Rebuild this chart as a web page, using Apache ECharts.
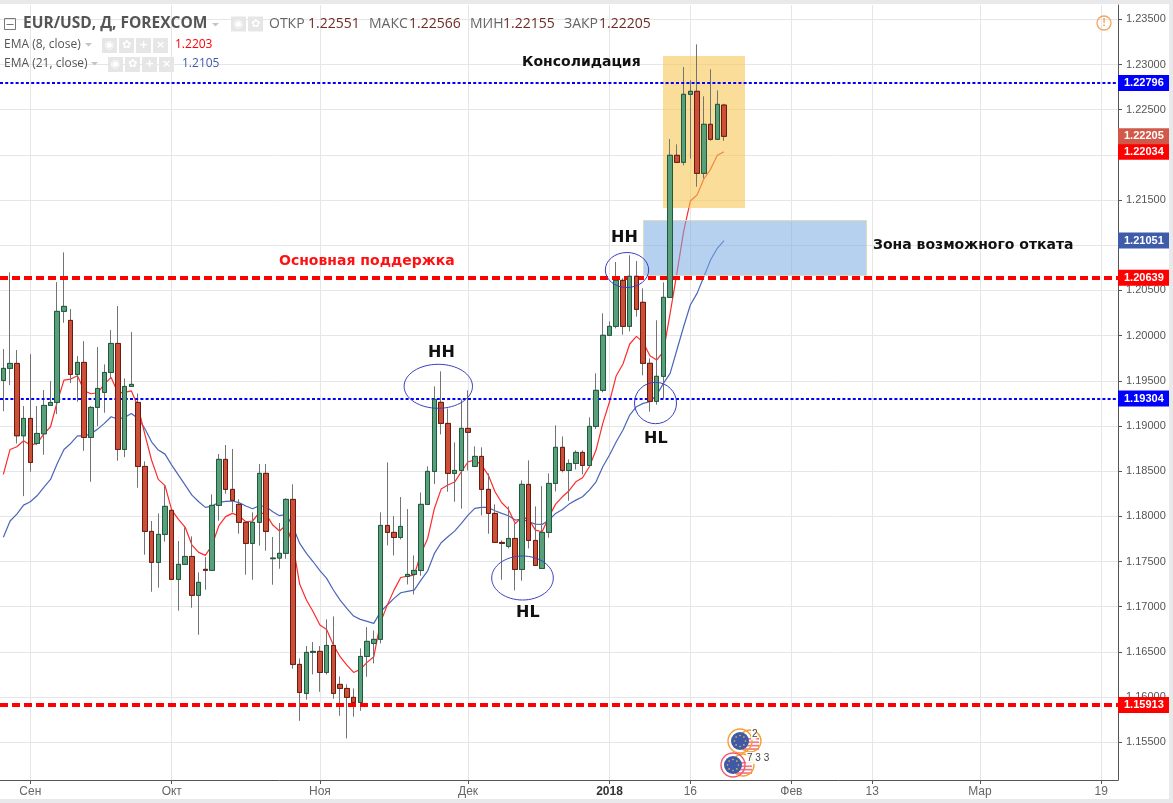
<!DOCTYPE html>
<html>
<head>
<meta charset="utf-8">
<style>html,body{margin:0;padding:0;background:#fff;overflow:hidden}#c{width:1173px;height:803px}</style>
<script src="https://cdn.jsdelivr.net/npm/echarts@6/dist/echarts.min.js"></script>
</head>
<body>
<div id="c"></div>
<script>
const opens = [1.19504,1.19637,1.19692,1.18891,1.19083,1.18806,1.18913,1.19227,1.19260,1.20268,1.20168,1.19570,1.19703,1.18873,1.19205,1.19371,1.19592,1.19913,1.18740,1.19437,1.19260,1.18552,1.17833,1.17490,1.17800,1.18066,1.17302,1.17468,1.17556,1.17125,1.17413,1.17402,1.18121,1.18630,1.18298,1.18132,1.17933,1.17700,1.17933,1.18475,1.17531,1.17538,1.17590,1.18187,1.16361,1.16040,1.16494,1.16505,1.16272,1.16571,1.16140,1.16095,1.15996,1.15940,1.16449,1.16593,1.16638,1.17899,1.17822,1.17766,1.17334,1.17357,1.17401,1.18132,1.18497,1.19261,1.19028,1.18475,1.18508,1.18973,1.18552,1.18663,1.18298,1.18032,1.17711,1.17667,1.17755,1.17412,1.18353,1.17733,1.17423,1.17822,1.18364,1.18763,1.18508,1.18585,1.18707,1.18563,1.18995,1.19394,1.20003,1.20102,1.20611,1.20102,1.20656,1.20368,1.19693,1.19272,1.19549,1.20423,1.21995,1.21917,1.22670,1.22703,1.21795,1.22338,1.22172,1.22551];
const closes = [1.19637,1.19692,1.18891,1.19083,1.18596,1.18917,1.19227,1.19260,1.20268,1.20323,1.19570,1.19703,1.18873,1.19205,1.19415,1.19592,1.19913,1.18740,1.19437,1.19460,1.18552,1.17833,1.17490,1.17800,1.18110,1.17302,1.17468,1.17556,1.17125,1.17269,1.17402,1.18121,1.18630,1.18298,1.18176,1.17933,1.17700,1.17933,1.18475,1.17833,1.17538,1.17590,1.18187,1.16361,1.16051,1.16494,1.16505,1.16272,1.16571,1.16040,1.16095,1.15996,1.15940,1.16449,1.16616,1.16638,1.17899,1.17822,1.17766,1.17888,1.17357,1.17401,1.18132,1.18497,1.19294,1.19028,1.18475,1.18508,1.18973,1.18929,1.18663,1.18298,1.18032,1.17711,1.17700,1.17755,1.17412,1.18353,1.17733,1.17456,1.17822,1.18364,1.18763,1.18508,1.18585,1.18707,1.18563,1.18995,1.19394,1.20003,1.20102,1.20611,1.20102,1.20656,1.20290,1.19693,1.19272,1.19549,1.20423,1.21995,1.21917,1.22670,1.22703,1.21795,1.22338,1.22172,1.22559,1.22205];
const highs = [1.19851,1.20699,1.19840,1.19220,1.19795,1.19220,1.19397,1.19496,1.20592,1.20921,1.20293,1.19773,1.19939,1.19220,1.19873,1.19681,1.20061,1.20327,1.19526,1.20039,1.19360,1.18608,1.17948,1.18032,1.18346,1.18066,1.17726,1.17878,1.17778,1.17379,1.17549,1.18243,1.18689,1.18789,1.18745,1.18187,1.17945,1.18044,1.18579,1.18579,1.17771,1.17925,1.18199,1.18354,1.16427,1.16564,1.16608,1.16564,1.16859,1.16892,1.16228,1.16140,1.16095,1.16538,1.16774,1.16737,1.18044,1.18596,1.18002,1.18213,1.18080,1.17567,1.18264,1.18552,1.19438,1.19604,1.19194,1.18818,1.19294,1.19394,1.18774,1.18763,1.18475,1.18132,1.17733,1.18109,1.17921,1.18397,1.18619,1.18109,1.18334,1.18475,1.19006,1.18884,1.18630,1.18729,1.18730,1.19095,1.19582,1.20246,1.20158,1.20814,1.20634,1.20888,1.20825,1.20523,1.19748,1.20169,1.20589,1.22175,1.22116,1.22972,1.22825,1.23223,1.22648,1.22947,1.22714,1.22566];
const lows = [1.19164,1.19452,1.18806,1.18223,1.18493,1.18788,1.18681,1.19227,1.19131,1.20142,1.19474,1.19268,1.18725,1.18382,1.18998,1.19146,1.19526,1.18615,1.18655,1.19434,1.18316,1.17575,1.17165,1.17210,1.17719,1.17302,1.16955,1.17468,1.16988,1.16689,1.17187,1.17402,1.17951,1.18250,1.18044,1.17807,1.17354,1.17298,1.17675,1.17619,1.17243,1.17420,1.17531,1.16313,1.15737,1.15970,1.16250,1.16058,1.16250,1.15981,1.15793,1.15542,1.15782,1.15848,1.16224,1.16372,1.16593,1.17678,1.17567,1.17744,1.17246,1.17135,1.17342,1.18132,1.18357,1.18906,1.18272,1.18161,1.18084,1.18508,1.18552,1.18010,1.17807,1.17711,1.17298,1.17644,1.17180,1.17287,1.17644,1.17456,1.17423,1.17763,1.18275,1.18486,1.18172,1.18519,1.18464,1.18552,1.18965,1.19372,1.20003,1.20080,1.20010,1.20047,1.20209,1.19560,1.19158,1.19235,1.19305,1.20423,1.21917,1.21884,1.21958,1.21648,1.21740,1.22157,1.22172,1.22155];
const ema8 = [1.18463,1.18740,1.18769,1.18836,1.18788,1.18806,1.18910,1.18991,1.19268,1.19507,1.19519,1.19555,1.19389,1.19356,1.19367,1.19463,1.19537,1.19367,1.19371,1.19389,1.19212,1.18910,1.18623,1.18409,1.18339,1.18069,1.17966,1.17878,1.17682,1.17601,1.17568,1.17682,1.17896,1.17996,1.18032,1.18003,1.17940,1.17948,1.18040,1.18025,1.17903,1.17837,1.17903,1.17682,1.17247,1.17073,1.16944,1.16796,1.16748,1.16575,1.16446,1.16354,1.16272,1.16306,1.16383,1.16446,1.16826,1.17017,1.17183,1.17323,1.17338,1.17349,1.17589,1.17755,1.18087,1.18301,1.18346,1.18379,1.18493,1.18604,1.18622,1.18567,1.18456,1.18272,1.18150,1.18076,1.17921,1.17988,1.17969,1.17847,1.17829,1.17995,1.18135,1.18216,1.18283,1.18382,1.18427,1.18548,1.18733,1.19028,1.19268,1.19556,1.19685,1.19907,1.19991,1.19925,1.19777,1.19729,1.19822,1.20246,1.20688,1.21150,1.21489,1.21555,1.21733,1.21840,1.21995,1.22034];
const ema21 = [1.17768,1.17948,1.18025,1.18124,1.18161,1.18227,1.18319,1.18408,1.18585,1.18740,1.18806,1.18891,1.18891,1.18910,1.18965,1.19028,1.19102,1.19076,1.19094,1.19138,1.19083,1.18972,1.18825,1.18733,1.18688,1.18567,1.18456,1.18345,1.18234,1.18161,1.18099,1.18114,1.18154,1.18165,1.18169,1.18151,1.18114,1.18084,1.18117,1.18106,1.18051,1.18007,1.18021,1.17885,1.17700,1.17590,1.17497,1.17398,1.17313,1.17184,1.17073,1.16981,1.16896,1.16859,1.16837,1.16815,1.16944,1.17018,1.17092,1.17154,1.17169,1.17183,1.17294,1.17397,1.17589,1.17707,1.17774,1.17836,1.17921,1.18013,1.18087,1.18098,1.18098,1.18061,1.18032,1.18006,1.17958,1.17969,1.17940,1.17914,1.17910,1.17958,1.18032,1.18076,1.18135,1.18179,1.18216,1.18290,1.18382,1.18549,1.18678,1.18825,1.18955,1.19121,1.19213,1.19250,1.19268,1.19342,1.19471,1.19582,1.19840,1.20098,1.20338,1.20467,1.20652,1.20836,1.20966,1.21051];
const barCount = 166;
const xTickIndex = [4,25,47,69,90,102,117,129,145,163];
const xTickText = ['Сен','Окт','Ноя','Дек','2018','16','Фев','13','Мар','19'];
const yTicks = [1.155,1.16,1.165,1.17,1.175,1.18,1.185,1.19,1.195,1.2,1.205,1.21,1.215,1.22,1.225,1.23,1.235];
const levelValues = [1.22796,1.19304,1.20639,1.15913];
const levelColors = ['#0000ff','#0000ff','#ff0000','#ff0000'];
const lastValues = [1.21051,1.22034,1.22205];
const lastColors = ['#3f5cab','#ff0000','#d0594a'];

const categories = Array.from({length: barCount}, (_, i) => i);
const tickLabel = {};
xTickIndex.forEach((k, n) => { tickLabel[k] = xTickText[n]; });
const isTick = i => tickLabel[i] !== undefined;
const wickData = opens.map((o, i) => [o, closes[i], lows[i], highs[i]]);
const bodyData = opens.map((o, i) => [o, closes[i], Math.min(o, closes[i]), Math.max(o, closes[i])]);

function tag(value, color) {
  return {yAxis: value, lineStyle: {color: 'rgba(0,0,0,0)', width: 0},
    label: {show: true, position: 'end', distance: 0, formatter: value.toFixed(5), color: '#fff',
      backgroundColor: color, fontFamily: 'Liberation Sans', fontWeight: 'bold', fontSize: 11,
      width: 45, height: 16, lineHeight: 16, align: 'left', padding: [0, 0, 0, 6]}};
}
function levelLine(value, i) {
  const red = levelColors[i] === '#ff0000';
  const d = tag(value, levelColors[i]);
  d.lineStyle = {color: levelColors[i], width: red ? 4 : 2, type: red ? [8, 4] : [3, 2.2], opacity: 1};
  return d;
}

const sans = 'Open Sans';
function txt(x, y, s, o) {
  return {type: 'text', z: 20, silent: true, x, y,
    style: Object.assign({text: s, fontFamily: sans, fontSize: 12, fill: '#555', textVerticalAlign: 'middle', verticalAlign: 'middle'}, o || {})};
}
function rect(x, y, w, h, fill, z, extra) {
  return {type: 'rect', z: z === undefined ? 20 : z, silent: true, shape: {x, y, width: w, height: h},
    style: Object.assign({fill}, extra || {})};
}
function ell(cx, cy, rx, ry, z) {
  return {type: 'ellipse', z: 21, silent: true, shape: {cx, cy, rx, ry}, style: {fill: 'none', stroke: '#3a3fc4', lineWidth: 1}};
}
function tri(x, y) {
  return {type: 'polygon', z: 20, silent: true, shape: {points: [[x, y], [x + 7, y], [x + 3.5, y + 3.5]]}, style: {fill: '#c4c4c4'}};
}
function icons(x, y, glyphs) {
  const out = [];
  glyphs.forEach((g, i) => {
    out.push(rect(x + i * 17, y, 15, 15, '#e6e6e6'));
    out.push(txt(x + i * 17 + 7.5, y + 7.5, g, {fill: '#fff', fontFamily: 'DejaVu Sans', fontSize: 11, fontWeight: 'bold', align: 'center', textAlign: 'center'}));
  });
  return out;
}
function flag(cx, cy, ringColors, label, lx, ly) {
  const out = [];
  for (let s = 0; s < 4; s++) out.push(rect(cx + 2, cy - 3 + s * 3.4, 17, 1.7, '#f0788a'));
  out.push({type: 'circle', z: 20, silent: true, shape: {cx: cx + 10, cy, r: 11}, style: {fill: 'none', stroke: '#f5a033', lineWidth: 1.4}});
  ringColors.forEach((c, k) => {
    out.push({type: 'circle', z: 20, silent: true, shape: {cx: cx + k, cy, r: 12}, style: {fill: 'none', stroke: c, lineWidth: 1.4}});
  });
  out.push({type: 'circle', z: 20, silent: true, shape: {cx, cy, r: 9}, style: {fill: '#3f58a8'}});
  for (let a = 0; a < 8; a++) {
    out.push({type: 'circle', z: 20, silent: true, shape: {cx: cx + 5.5 * Math.cos(a * Math.PI / 4), cy: cy + 5.5 * Math.sin(a * Math.PI / 4), r: 0.8}, style: {fill: '#e8c53a'}});
  }
  out.push(rect(lx - 1, ly - 6, label.length * 3.4 + 2, 12, 'rgba(255,255,255,0.85)'));
  out.push(txt(lx, ly, label, {fill: '#444', fontFamily: 'Liberation Sans', fontSize: 10}));
  return out;
}
const boldText = {fontFamily: 'DejaVu Sans', fontWeight: 'bold', fontSize: 14, fill: '#111'};
const markText = {fontFamily: 'DejaVu Sans', fontWeight: 'bold', fontSize: 16, fill: '#111'};

const graphicElements = [
  // page frame
  rect(0, 0, 1173, 4, '#e9e9ec', 30),
  rect(1169, 0, 4, 803, '#e9e9ec', 30),
  rect(0, 799, 1173, 4, '#e9e9ec', 30),
  // zones, above the lines but under the candles
  rect(663, 56, 82, 152, 'rgba(245,196,80,0.58)', 3),
  rect(643.5, 220.5, 223, 55, 'rgba(122,172,226,0.55)', 3, {stroke: '#dcdcbe', lineWidth: 1}),
  // header
  {type: 'rect', z: 20, silent: true, shape: {x: 4.5, y: 18.5, width: 11, height: 11}, style: {fill: 'none', stroke: '#777', lineWidth: 1}},
  {type: 'line', z: 20, silent: true, shape: {x1: 6.5, y1: 24.5, x2: 13.5, y2: 24.5}, style: {stroke: '#777', lineWidth: 1}},
  txt(23, 24, 'EUR/USD, Д, FOREXCOM', {fontSize: 15.5, fontWeight: 'bold', fill: '#555'}),
  tri(212, 23),
  ...icons(231, 16.5, ['◉', '✿']),
  txt(269, 24, 'ОТКР', {fontSize: 14, fill: '#666'}),
  txt(308, 24, '1.22551', {fontSize: 14, fill: '#6e2c24'}),
  txt(369, 24, 'МАКС', {fontSize: 14, fill: '#666'}),
  txt(409, 24, '1.22566', {fontSize: 14, fill: '#6e2c24'}),
  txt(470, 24, 'МИН', {fontSize: 14, fill: '#666'}),
  txt(503, 24, '1.22155', {fontSize: 14, fill: '#6e2c24'}),
  txt(564, 24, 'ЗАКР', {fontSize: 14, fill: '#666'}),
  txt(599, 24, '1.22205', {fontSize: 14, fill: '#6e2c24'}),
  txt(4, 45, 'EMA (8, close)', {fontSize: 12}),
  tri(85, 43),
  ...icons(102, 38, ['◉', '✿', '+', '×']),
  txt(175, 45, '1.2203', {fontSize: 12, fill: '#ff0000'}),
  txt(4, 64, 'EMA (21, close)', {fontSize: 12}),
  tri(91, 62),
  ...icons(108, 57, ['◉', '✿', '+', '×']),
  txt(182, 64, '1.2105', {fontSize: 12, fill: '#3f5cab'}),
  // alert
  {type: 'circle', z: 20, silent: true, shape: {cx: 1104, cy: 23, r: 7}, style: {fill: 'none', stroke: '#f7a45f', lineWidth: 1.3}},
  txt(1104, 23, '!', {fontSize: 11, fill: '#f7a45f', fontFamily: 'Liberation Sans', fontWeight: 'bold', align: 'center', textAlign: 'center'}),
  // annotations
  txt(522, 62, 'Консолидация', boldText),
  txt(279, 261, 'Основная поддержка', Object.assign({}, boldText, {fill: '#ff1111'})),
  txt(873, 245, 'Зона возможного отката', boldText),
  txt(428, 353, 'HH', markText),
  txt(611, 238, 'HH', markText),
  txt(644, 439, 'HL', markText),
  txt(516, 613, 'HL', markText),
  ell(438.3, 386.3, 34.2, 22),
  ell(522.5, 578, 30.8, 22),
  ell(627, 270, 21.7, 17.5),
  ell(655.5, 403, 21, 20.7),
  // economic-event badges
  ...flag(740, 741, ['#f5a033'], '2', 752, 734),
  ...flag(733, 765, ['#f25a70'], '7 3 3', 747, 758)
];

const chart = echarts.init(document.getElementById('c'), null, {renderer: 'canvas'});
chart.setOption({
  animation: false,
  backgroundColor: '#fff',
  tooltip: {show: false},
  grid: {left: -1, width: 1119, top: 5, bottom: 23, containLabel: false},
  xAxis: {
    type: 'category', data: categories, boundaryGap: true,
    axisLine: {lineStyle: {color: '#555', width: 1}},
    axisTick: {show: true, alignWithLabel: true, length: 4, interval: i => isTick(i), lineStyle: {color: '#555'}},
    axisLabel: {interval: i => isTick(i), margin: 6, color: '#666', fontFamily: 'Liberation Sans', fontSize: 12,
      formatter: v => v === 90 || v === '90' ? '{b|2018}' : (tickLabel[v] || ''),
      rich: {b: {fontWeight: 'bold', color: '#333', fontFamily: 'Liberation Sans', fontSize: 12}}},
    splitLine: {show: true, alignWithLabel: true, interval: i => isTick(i), lineStyle: {color: '#e6e6e6', width: 1}}
  },
  yAxis: {
    type: 'value', position: 'right', scale: true, min: 1.150817, max: 1.236585,
    axisLine: {show: true, lineStyle: {color: '#555', width: 1}},
    axisTick: {show: true, length: 4, customValues: yTicks, lineStyle: {color: '#555'}},
    axisLabel: {customValues: yTicks, margin: 8, color: '#555', fontFamily: 'Liberation Sans', fontSize: 11,
      formatter: v => v.toFixed(5)},
    splitLine: {show: true, lineStyle: {color: '#e6e6e6', width: 1}}
  },
  graphic: {elements: graphicElements},
  series: [
    {type: 'line', name: 'levels', data: [], z: 2, silent: true,
      markLine: {silent: true, symbol: 'none', animation: false, precision: 5,
        data: lastValues.map((v, i) => tag(v, lastColors[i])).concat(levelValues.map(levelLine))}},
    {type: 'line', name: 'EMA 21', data: ema21, z: 2, symbol: 'none', silent: true, lineStyle: {color: '#4a66b8', width: 1.2}},
    {type: 'line', name: 'EMA 8', data: ema8, z: 2, symbol: 'none', silent: true, lineStyle: {color: '#ff2a2a', width: 1.2}},
    {type: 'candlestick', name: 'wicks', data: wickData, z: 4, silent: true, barWidth: 5,
      itemStyle: {color: '#737373', color0: '#737373', borderColor: '#737373', borderColor0: '#737373', borderWidth: 1}},
    {type: 'candlestick', name: 'EUR/USD', data: bodyData, z: 5, silent: true, barWidth: 5,
      itemStyle: {color: '#5a9f7c', color0: '#cc4f38', borderColor: '#1f5a3c', borderColor0: '#6b1a12', borderWidth: 1}}
  ]
});
</script>
</body>
</html>
